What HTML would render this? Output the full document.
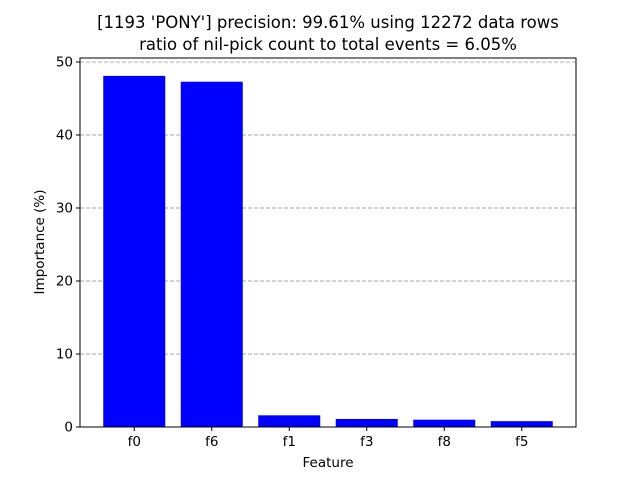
<!DOCTYPE html>
<html><head><meta charset="utf-8"><style>body{margin:0;background:#fff}svg{font-family:"DejaVu Sans","Liberation Sans",sans-serif}</style></head>
<body>
<svg id="chart" width="640" height="480">
<rect width="640" height="480" fill="#fff"/>
<text x="328" y="28" text-anchor="middle" font-size="16.5">[1193 'PONY'] precision: 99.61% using 12272 data rows</text>
<text x="328" y="50" text-anchor="middle" font-size="16.5">ratio of nil-pick count to total events = 6.05%</text>
<g id="grid"></g><g id="bars"></g><g id="axes"></g>
<text x="328" y="467" text-anchor="middle" font-size="13.5">Feature</text>
<text transform="translate(44,242) rotate(-90)" text-anchor="middle" font-size="13.5">Importance (%)</text>
</svg>
<script>
const categories=["f0","f6","f1","f3","f8","f5"];
const values=[48.1,47.3,1.6,1.1,1.0,0.8];
const yTicks=[0,10,20,30,40,50];
const L=80,R=576,T=58,B=427,ymax=50.55;
const ns="http://www.w3.org/2000/svg";
function y(v){return B-(v/ymax)*(B-T);}
function x(i){return L+(i+0.7)/6.4*(R-L);}
const bw=0.8/6.4*(R-L);
function mk(t,a,p){const e=document.createElementNS(ns,t);for(const k in a)e.setAttribute(k,a[k]);document.getElementById(p).appendChild(e);return e;}
yTicks.forEach(v=>{
 const g=mk("line",{x1:L,x2:R,y1:y(v),y2:y(v),stroke:"#a8a8a8","stroke-dasharray":"4,2","stroke-width":0.9},"grid");
 
 
 const tk=mk("line",{x1:L-4,x2:L,y1:y(v),y2:y(v),stroke:"#000"},"axes");
 
 
 const t=mk("text",{x:L-7,y:y(v)+4.5,"text-anchor":"end","font-size":13.5},"axes");
 t.textContent=v;
 
 
});
categories.forEach((c,i)=>{
 const b=mk("rect",{x:x(i)-bw/2,y:y(values[i]),width:bw,height:B-y(values[i]),fill:"#0000ff"},"bars");
 
 
 const tk=mk("line",{x1:x(i),x2:x(i),y1:B,y2:B+4,stroke:"#000"},"axes");
 
 
 const t=mk("text",{x:x(i),y:B+19,"text-anchor":"middle","font-size":13.5},"axes");
 t.textContent=c;
 
 
});
const f=mk("rect",{x:L,y:T,width:R-L,height:B-T,fill:"none",stroke:"#000","stroke-width":1},"axes");


</script>
</body></html>
